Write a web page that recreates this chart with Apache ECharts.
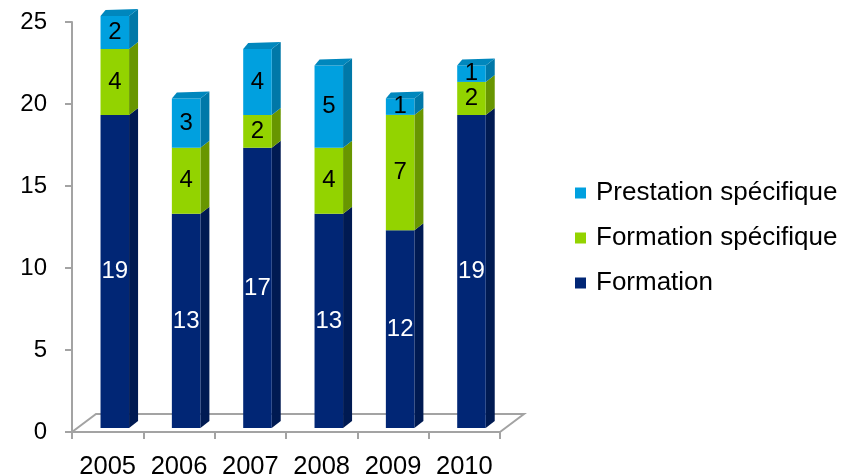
<!DOCTYPE html>
<html>
<head>
<meta charset="utf-8">
<script src="https://cdn.jsdelivr.net/npm/echarts@6/dist/echarts.min.js"></script>
<style>
  html, body { margin: 0; padding: 0; background: #fff; }
  #chart { width: 857px; height: 476px; }
</style>
</head>
<body>
<div id="chart"></div>
<script>
// Yearly counts, stacked bottom to top
const years = ['2005', '2006', '2007', '2008', '2009', '2010'];
const formation = [19, 13, 17, 13, 12, 19];
const formationSpecifique = [4, 4, 2, 4, 7, 2];
const prestationSpecifique = [2, 3, 4, 5, 1, 1];
const valueTicks = [0, 5, 10, 15, 20, 25];

const FONT = '"Liberation Sans", Arial, Helvetica, sans-serif';
const AXIS_GREY = '#a3a3a3';

// Shading for the three faces of each bar segment
const palette = {
  formation:   { front: '#012675', side: '#001a52', top: '#011d5e', label: '#ffffff' },
  formationSp: { front: '#93d300', side: '#689600', top: '#7cb300', label: '#000000' },
  prestation:  { front: '#00a0df', side: '#0078a8', top: '#0087bd', label: '#000000' }
};

// Offsets of the rear edges of a bar (slight perspective: right edge recedes further)
const BACK_LEFT = [5, -6];
const BACK_RIGHT = [9, -7];
// Offset of the rear edge of the floor
const FLOOR_DEPTH = [24, -18];

function stackRows(values, below) {
  return values.map((v, i) => [i, below[i], below[i] + v, v]);
}
const base0 = years.map(() => 0);
const base1 = formation.slice();
const base2 = formation.map((v, i) => v + formationSpecifique[i]);

function segmentRenderer(colors, withCap) {
  return function (params, api) {
    const i = api.value(0);
    const lo = api.value(1);
    const hi = api.value(2);
    const v = api.value(3);
    const band = api.size([1, 0])[0];
    const pLo = api.coord([i, lo]);
    const pHi = api.coord([i, hi]);
    const xl = pLo[0] - 0.1 * band;
    const xr = pLo[0] + 0.3 * band;
    const yb = pLo[1];
    const yt = pHi[1];
    const children = [
      {
        type: 'polygon',
        shape: { points: [[xr, yb], [xr + BACK_RIGHT[0], yb + BACK_RIGHT[1]], [xr + BACK_RIGHT[0], yt + BACK_RIGHT[1]], [xr, yt]] },
        style: { fill: colors.side }
      },
      {
        type: 'rect',
        shape: { x: xl, y: yt, width: xr - xl, height: yb - yt },
        style: { fill: colors.front }
      }
    ];
    if (withCap) {
      children.push({
        type: 'polygon',
        shape: { points: [[xl, yt], [xr, yt], [xr + BACK_RIGHT[0], yt + BACK_RIGHT[1]], [xl + BACK_LEFT[0], yt + BACK_LEFT[1]]] },
        style: { fill: colors.top }
      });
    }
    children.push({
      type: 'text',
      z2: 10,
      style: {
        text: String(v),
        x: (xl + xr) / 2,
        y: (yb + yt) / 2,
        align: 'center',
        verticalAlign: 'middle',
        fill: colors.label,
        fontSize: 24,
        fontFamily: FONT
      }
    });
    return { type: 'group', children };
  };
}

// Floor outline (front edge is the category axis line)
function floorRenderer(params, api) {
  const cs = params.coordSys;
  const x0 = cs.x, x1 = cs.x + cs.width, y0 = cs.y + cs.height;
  const bx0 = x0 + FLOOR_DEPTH[0], bx1 = x1 + FLOOR_DEPTH[0], by = y0 + FLOOR_DEPTH[1];
  return {
    type: 'polyline',
    shape: { points: [[x0, y0], [bx0, by], [bx1, by], [x1, y0]] },
    style: { stroke: AXIS_GREY, lineWidth: 2, fill: null }
  };
}

const chart = echarts.init(document.getElementById('chart'), null, { renderer: 'canvas' });

chart.setOption({
  animation: false,
  backgroundColor: '#ffffff',
  textStyle: { fontFamily: FONT },
  grid: [
    { left: 72, top: 22, width: 428, height: 410, containLabel: false, outerBoundsMode: 'none' },
    { left: 72, top: 16, width: 428, height: 412, containLabel: false, outerBoundsMode: 'none' }
  ],
  xAxis: [
    {
      gridIndex: 0,
      type: 'category',
      data: years,
      axisLine: { lineStyle: { color: AXIS_GREY, width: 2 } },
      axisTick: { show: true, length: 7, lineStyle: { color: AXIS_GREY, width: 2 } },
      axisLabel: { color: '#000', fontSize: 25.5, fontFamily: FONT, margin: 22, interval: 0, hideOverlap: false }
    },
    {
      gridIndex: 1,
      type: 'category',
      data: years,
      show: false
    }
  ],
  yAxis: [
    {
      gridIndex: 0,
      type: 'value',
      min: valueTicks[0],
      max: valueTicks[valueTicks.length - 1],
      interval: valueTicks[1] - valueTicks[0],
      axisLine: { show: true, lineStyle: { color: AXIS_GREY, width: 2 } },
      axisTick: { show: true, length: 7, lineStyle: { color: AXIS_GREY, width: 2 } },
      splitLine: { show: false },
      axisLabel: { color: '#000', fontSize: 24, fontFamily: FONT, margin: 25 }
    },
    {
      gridIndex: 1,
      type: 'value',
      min: valueTicks[0],
      max: valueTicks[valueTicks.length - 1],
      show: false,
      splitLine: { show: false }
    }
  ],
  legend: {
    orient: 'vertical',
    left: 575,
    top: 180,
    padding: 0,
    icon: 'rect',
    itemWidth: 11,
    itemHeight: 11,
    itemGap: 19,
    selectedMode: false,
    textStyle: { color: '#000', fontSize: 26, fontFamily: FONT, lineHeight: 26, padding: [0, 0, 0, 5] },
    data: ['Prestation spécifique', 'Formation spécifique', 'Formation']
  },
  series: [
    {
      type: 'custom',
      name: 'floor',
      xAxisIndex: 0,
      yAxisIndex: 0,
      silent: true,
      data: [[0, 0]],
      renderItem: floorRenderer,
      z: 1
    },
    {
      type: 'custom',
      name: 'Formation',
      xAxisIndex: 1,
      yAxisIndex: 1,
      itemStyle: { color: palette.formation.front },
      data: stackRows(formation, base0),
      encode: { x: 0, y: [1, 2] },
      renderItem: segmentRenderer(palette.formation, false),
      z: 2
    },
    {
      type: 'custom',
      name: 'Formation spécifique',
      xAxisIndex: 1,
      yAxisIndex: 1,
      itemStyle: { color: palette.formationSp.front },
      data: stackRows(formationSpecifique, base1),
      encode: { x: 0, y: [1, 2] },
      renderItem: segmentRenderer(palette.formationSp, false),
      z: 3
    },
    {
      type: 'custom',
      name: 'Prestation spécifique',
      xAxisIndex: 1,
      yAxisIndex: 1,
      itemStyle: { color: palette.prestation.front },
      data: stackRows(prestationSpecifique, base2),
      encode: { x: 0, y: [1, 2] },
      renderItem: segmentRenderer(palette.prestation, true),
      z: 4
    }
  ]
});
</script>
</body>
</html>
